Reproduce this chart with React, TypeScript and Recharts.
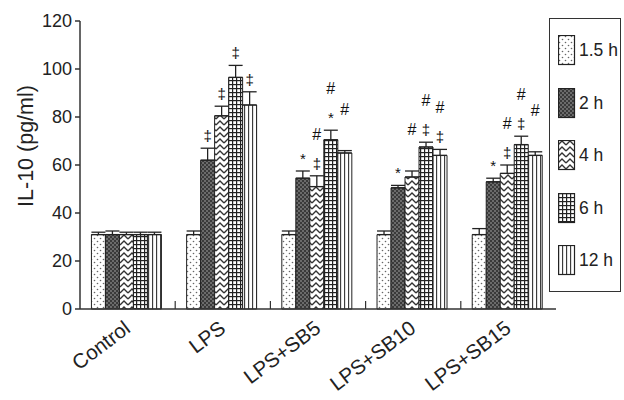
import React from "react";
import {
  BarChart,
  Bar,
  XAxis,
  YAxis,
  ErrorBar,
  LabelList,
  Legend,
  ReferenceLine,
} from "recharts";

const groups = ["Control", "LPS", "LPS+SB5", "LPS+SB10", "LPS+SB15"];
const yTicks = [0, 20, 40, 60, 80, 100, 120];

// IL-10 means per time point
const v15 = [31, 31, 31, 31, 31];
const v2 = [31, 62, 54.5, 50.5, 53];
const v4 = [31, 80.5, 51, 55, 56.5];
const v6 = [31, 96.5, 70.5, 67.5, 68.5];
const v12 = [31, 85, 65, 64, 64];

// upper error (SEM)
const e15 = [1, 1.5, 1.5, 1.5, 2.5];
const e2 = [1.5, 5, 3, 1, 1.5];
const e4 = [1, 4, 4.5, 2.5, 3.5];
const e6 = [1, 5, 4, 2, 3.5];
const e12 = [1, 5.5, 1, 2.5, 1.5];

// significance marks
const s15 = ["", "", "", "", ""];
const s2 = ["", "‡", "*", "*", "*"];
const s4 = ["", "‡", "‡", "", "‡"];
const s6 = ["", "‡", "*", "‡", "‡"];
const s12 = ["", "‡", "", "‡", ""];
const h15 = ["", "", "", "", ""];
const h2 = ["", "", "", "", ""];
const h4 = ["", "", "#", "#", "#"];
const h6 = ["", "", "#", "#", "#"];
const h12 = ["", "", "#", "#", "#"];

const series = [
  { key: "t15", name: "1.5 h", values: v15, errors: e15, stars: s15, hashes: h15, fill: "url(#pDots)" },
  { key: "t2", name: "2 h", values: v2, errors: e2, stars: s2, hashes: h2, fill: "url(#pDense)" },
  { key: "t4", name: "4 h", values: v4, errors: e4, stars: s4, hashes: h4, fill: "url(#pZig)" },
  { key: "t6", name: "6 h", values: v6, errors: e6, stars: s6, hashes: h6, fill: "url(#pGrid)" },
  { key: "t12", name: "12 h", values: v12, errors: e12, stars: s12, hashes: h12, fill: "url(#pVert)" },
];

const data = groups.map((g, i) => {
  const row: any = { group: g };
  series.forEach((s) => {
    row[s.key] = s.values[i];
    row[s.key + "_err"] = [0, s.errors[i]];
  });
  return row;
});

const FONT = "'Liberation Sans', Arial, sans-serif";
const INK = "#222";

const Patterns = () => (
  <svg width={0} height={0} style={{ position: "absolute" }}>
    <defs>
      <pattern id="pDots" width="6" height="6" patternUnits="userSpaceOnUse">
        <rect width="6" height="6" fill="#fff" />
        <circle cx="1.5" cy="1.5" r="0.8" fill="#666" />
        <circle cx="4.5" cy="4.5" r="0.8" fill="#666" />
      </pattern>
      <pattern id="pDense" width="4" height="4" patternUnits="userSpaceOnUse">
        <rect width="4" height="4" fill="#3a3a3a" />
        <circle cx="1" cy="1" r="0.8" fill="#aaa" />
        <circle cx="3" cy="3" r="0.8" fill="#aaa" />
      </pattern>
      <pattern id="pZig" width="8" height="6" patternUnits="userSpaceOnUse">
        <rect width="8" height="6" fill="#fff" />
        <path d="M0 5 L4 1 L8 5" stroke="#333" strokeWidth="1.3" fill="none" />
      </pattern>
      <pattern id="pGrid" width="4" height="4" patternUnits="userSpaceOnUse">
        <rect width="4" height="4" fill="#222" />
        <rect x="1.2" y="1.2" width="2.8" height="2.8" fill="#fff" />
      </pattern>
      <pattern id="pVert" width="4" height="4" patternUnits="userSpaceOnUse">
        <rect width="4" height="4" fill="#fff" />
        <line x1="0.6" y1="0" x2="0.6" y2="4" stroke="#333" strokeWidth="1.1" />
      </pattern>
    </defs>
  </svg>
);

const markContent = (s: any) => (p: any) => {
  const vb = p.viewBox || p;
  const { x, y, width, height } = vb;
  const i = p.index;
  if (i == null) return null;
  const star = s.stars[i];
  const hash = s.hashes[i];
  if (!star && !hash) return null;
  const unit = height / s.values[i];
  const capY = y - s.errors[i] * unit;
  const cx = x + width / 2;
  return (
    <g>
      {star && (
        <text x={cx} y={capY - 7} textAnchor="middle" fontSize={15} fill="#111" fontFamily={FONT}>
          {star}
        </text>
      )}
      {hash && (
        <text x={cx} y={capY - 36} textAnchor="middle" fontSize={16} fill="#111" fontFamily={FONT}>
          #
        </text>
      )}
    </g>
  );
};

const XTick = ({ x, y, payload }: any) => {
  const bx = x + 4;
  const by = y + 22;
  return (
    <text
      x={bx}
      y={by}
      transform={`rotate(-37 ${bx} ${by})`}
      textAnchor="end"
      fontSize={20.5}
      fill={INK}
      fontFamily={FONT}
    >
      {payload.value}
    </text>
  );
};

const YLabel = ({ viewBox }: any) => {
  const cx = viewBox.x + 6;
  const cy = viewBox.y + viewBox.height / 2 - 19;
  return (
    <text
      x={cx}
      y={cy}
      transform={`rotate(-90 ${cx} ${cy})`}
      textAnchor="middle"
      dominantBaseline="central"
      fontSize={21.5}
      fill={INK}
      fontFamily={FONT}
    >
      IL-10 (pg/ml)
    </text>
  );
};

const LegendBox = () => (
  <div
    style={{
      width: 72,
      height: 274,
      border: "1.5px solid #333",
      boxSizing: "border-box",
      background: "#fff",
      fontFamily: FONT,
      position: "relative",
    }}
  >
    {series.map((s, i) => (
      <div
        key={s.key}
        style={{
          position: "absolute",
          left: 8,
          top: 16 + i * 52.5,
          display: "flex",
          alignItems: "center",
        }}
      >
        <svg width={18} height={31}>
          <rect x={0.5} y={0.5} width={16} height={29} fill={s.fill} stroke="#222" strokeWidth={1.2} />
        </svg>
        <span style={{ fontSize: 17.5, color: INK, marginLeft: 3 }}>{s.name}</span>
      </div>
    ))}
  </div>
);

export default function App() {
  return (
    <div style={{ position: "absolute", left: 0, top: 0, width: 624, height: 400, background: "#fff" }}>
      <Patterns />
      <BarChart
        width={624}
        height={400}
        data={data}
        margin={{ top: 21, right: 68, bottom: 0, left: 20 }}
        barCategoryGap="12%"
        barGap={0}
        style={{ fontFamily: FONT }}
      >
        <XAxis
          dataKey="group"
          interval={0}
          height={91}
          tickLine={false}
          tickSize={0}
          tickMargin={0}
          tick={<XTick />}
          axisLine={{ stroke: "#333", strokeWidth: 1.5 }}
        />
        <YAxis
          width={60}
          domain={[0, 120]}
          ticks={yTicks}
          interval={0}
          tickSize={5}
          tickMargin={3}
          tick={{ fill: INK, fontSize: 18, fontFamily: FONT }}
          axisLine={{ stroke: "#333", strokeWidth: 1.5 }}
          tickLine={{ stroke: "#333", strokeWidth: 1.5 }}
          label={{ content: <YLabel /> }}
        />
        {groups.slice(0, 4).map((g) => (
          <ReferenceLine
            key={g}
            position="end"
            segment={[
              { x: g, y: 0 },
              { x: g, y: 3.3 },
            ]}
            stroke="#333"
            strokeWidth={1.2}
            ifOverflow="visible"
          />
        ))}
        <Legend
          layout="vertical"
          align="center"
          verticalAlign="middle"
          wrapperStyle={{ left: 549, top: 18, width: 72 }}
          content={<LegendBox />}
        />
        {series.map((s) => (
          <Bar
            key={s.key}
            dataKey={s.key}
            name={s.name}
            fill={s.fill}
            stroke="#222"
            strokeWidth={1}
            isAnimationActive={false}
          >
            <ErrorBar dataKey={s.key + "_err"} width={7} stroke="#222" strokeWidth={1.3} direction="y" />
            <LabelList dataKey={s.key} content={markContent(s)} />
          </Bar>
        ))}
      </BarChart>
    </div>
  );
}
